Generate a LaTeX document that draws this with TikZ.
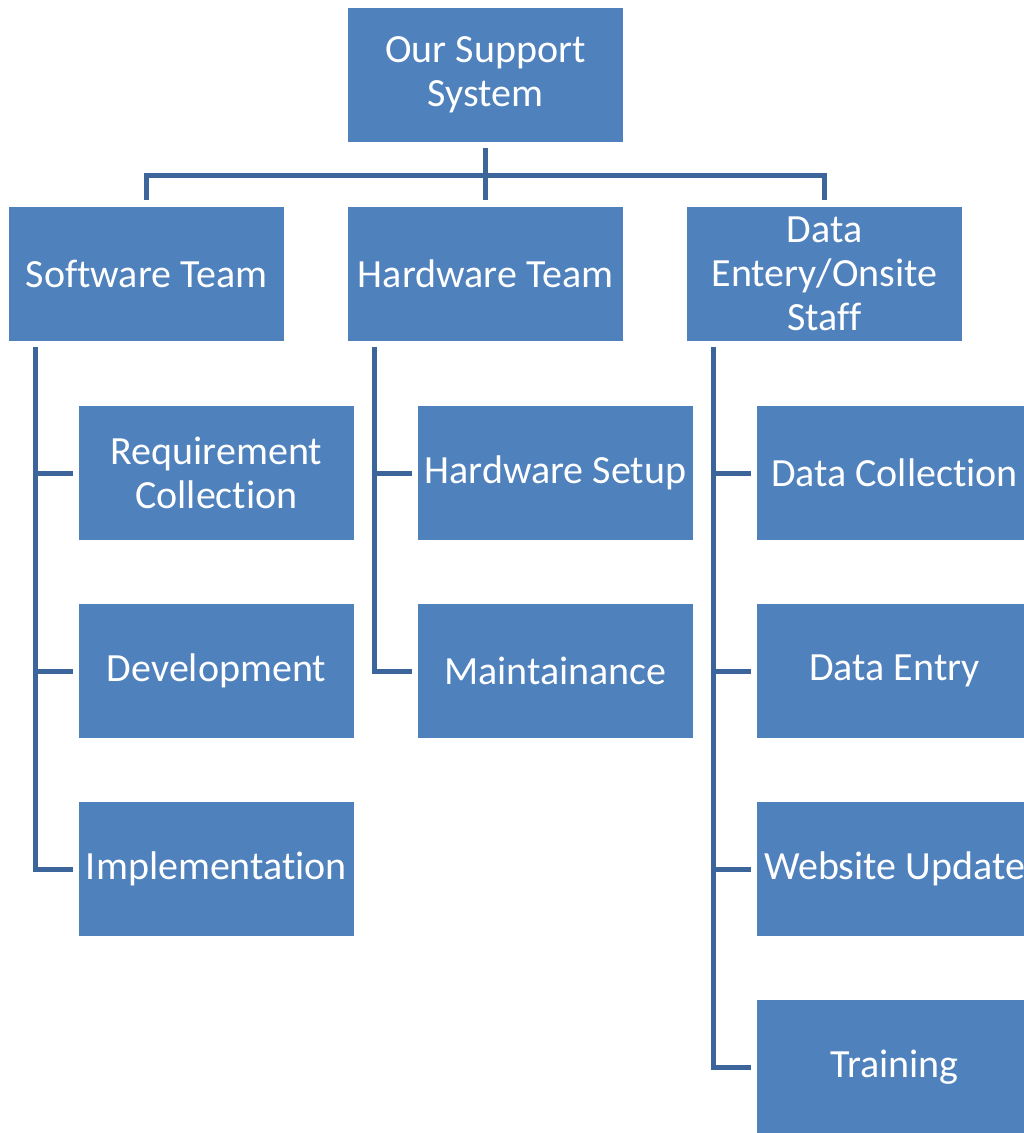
\documentclass[tikz,border=0pt]{standalone}
\usepackage{fontspec}
\setmainfont{Carlito}[Ligatures={NoCommon}]
\usepackage{xcolor}
\usetikzlibrary{positioning}
\definecolor{boxblue}{RGB}{79,129,189}
\definecolor{linkblue}{RGB}{60,102,155}

\begin{document}
\begin{tikzpicture}[
    x=1pt, y=-1pt,
    node distance=65pt and 64pt,
    unit/.style={rectangle, fill=boxblue, text=white, minimum width=275pt, minimum height=134pt, inner sep=0pt, outer sep=0pt, align=center, font=\fontsize{40}{44}\selectfont},
    link/.style={draw=linkblue, line width=5pt}
]
    \useasboundingbox (0,0) rectangle (1024,1133);

    % top and teams
    \node[unit] (root) at (485.5,75) {Our Support\\System};
    \node[unit, below=of root] (hw) {Hardware Team};
    \node[unit, left=of hw] (sw) {Software Team};
    \node[unit, right=of hw] (de) {Data\\Entery/Onsite\\Staff};

    % software team
    \node[unit, anchor=north west] (req) at ([shift={(70,65)}]sw.south west) {Requirement\\Collection};
    \node[unit, below=64pt of req] (dev) {Development};
    \node[unit, below=64pt of dev] (impl) {Implementation};

    % hardware team
    \node[unit, anchor=north west] (setup) at ([shift={(70,65)}]hw.south west) {Hardware Setup};
    \node[unit, below=64pt of setup] (maint) {Maintainance};

    % data entry staff
    \node[unit, anchor=north west] (collect) at ([shift={(70,65)}]de.south west) {Data Collection};
    \node[unit, below=64pt of collect] (entry) {Data Entry};
    \node[unit, below=64pt of entry] (web) {Website Update};
    \node[unit, below=64pt of web] (train) {Training};

    % tree lines
    \coordinate (bus) at ([yshift=-33pt]root.south);
    \draw[link] ([yshift=-6pt]root.south) -- ([yshift=7pt]hw.north);
    \draw[link] ([yshift=7pt]sw.north) |- (bus) -| ([yshift=7pt]de.north);

    \coordinate (swspine) at ([shift={(26,6)}]sw.south west);
    \coordinate (hwspine) at ([shift={(26,6)}]hw.south west);
    \coordinate (despine) at ([shift={(26,6)}]de.south west);

    \draw[link] (swspine) |- ([xshift=-6pt]impl.west);
    \foreach \c in {req,dev}
        \draw[link] (swspine |- \c.west) -- ([xshift=-6pt]\c.west);

    \draw[link] (hwspine) |- ([xshift=-6pt]maint.west);
    \draw[link] (hwspine |- setup.west) -- ([xshift=-6pt]setup.west);

    \draw[link] (despine) |- ([xshift=-6pt]train.west);
    \foreach \c in {collect,entry,web}
        \draw[link] (despine |- \c.west) -- ([xshift=-6pt]\c.west);
\end{tikzpicture}
\end{document}
